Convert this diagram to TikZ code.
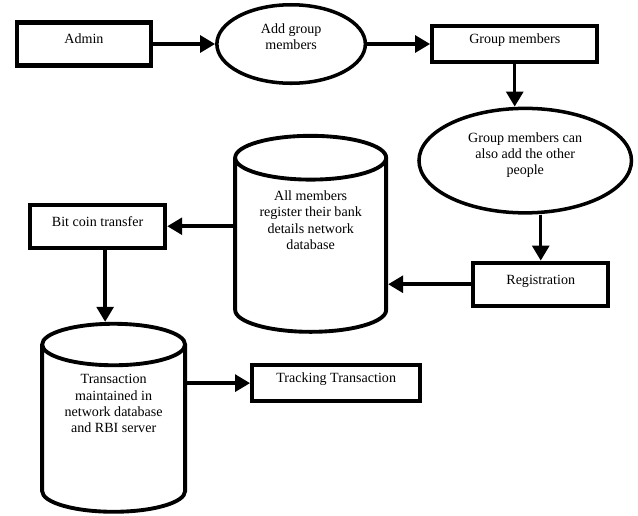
\documentclass[tikz,border=0pt]{standalone}
\usepackage{fontspec}
\setmainfont{Liberation Serif}
\usepackage{tikz}
\usetikzlibrary{shapes.geometric, arrows.meta}
\usetikzlibrary{positioning}
\tikzstyle{process} = [rectangle, minimum width=2.68cm, minimum height=0.86cm, text height=5.5pt, text depth=5.7pt, text centered, draw=black, line width=2.4pt, fill=white]
\tikzstyle{action} = [ellipse, inner sep=0pt, align=center, text depth=8pt, draw=black, line width=2pt, fill=white]
\tikzstyle{store} = [cylinder, shape border rotate=90, shape aspect=0.29, inner sep=0pt, draw=black, line width=2.2pt, fill=white]
\tikzstyle{storetext} = [inner sep=0pt, align=center]
\tikzstyle{arrow} = [line width=2pt, -{Triangle[length=8.5pt,width=9.5pt]}]

\begin{document}
\begin{tikzpicture}[node distance = 1.2cm, every text node part/.style={font=\fontsize{8}{9.2}\selectfont}]
\useasboundingbox (0,0) rectangle (12.76,-10.30);
\node (admin) [process] at (1.68,-0.88) {Admin};
\node (addgrp) [action, minimum width=2.97cm, minimum height=1.57cm, right=1.24cm of admin] {Add group\\ members};
\node (grpmem) [process, minimum width=3.30cm, minimum height=0.72cm, right=1.26cm of addgrp] {Group members};
\node (others) [action, minimum width=4.25cm, minimum height=2.09cm, below=0.85cm of grpmem, xshift=0.21cm] {Group members can\\ also add the other\\ people};
\node (reg) [process, minimum width=2.70cm, below=0.92cm of others, xshift=0.31cm] {Registration};
\node (db1) [store, text width=3.02cm, minimum width=3.02cm, minimum height=3.92cm, left=1.66cm of reg, yshift=0.77cm] {};
\node (db1txt) [storetext] at ([yshift=0.51cm]db1.center) {All members\\ register their bank\\ details network\\ database};
\node (bitcoin) [process, minimum width=2.70cm, left=1.32cm of db1, yshift=0.39cm] {Bit coin transfer};
\node (db2) [store, text width=2.86cm, minimum width=2.86cm, minimum height=3.76cm, below=1.44cm of bitcoin, xshift=0.32cm] {};
\node (db2txt) [storetext] at ([yshift=0.51cm]db2.center) {Transaction\\ maintained in\\ network database\\ and RBI server};
\node (track) [process, minimum width=3.36cm, minimum height=0.72cm, right=1.26cm of db2, yshift=0.92cm] {Tracking Transaction};

\draw [arrow] (admin) -- (addgrp);
\draw [arrow] (addgrp) -- (grpmem);
\draw [arrow] (grpmem.south) -- (grpmem.south |- others.north);
\draw [arrow] (others.south -| reg.north) -- (reg.north);
\draw [arrow] (reg.west) -- (reg.west -| db1.east);
\draw [arrow] (db1.west |- bitcoin.east) -- (bitcoin.east);
\draw [arrow] ([xshift=0.15cm]bitcoin.south) -- ([xshift=0.15cm]bitcoin.south |- db2.north);
\draw [arrow] (db2.east |- track.west) -- (track.west);
\end{tikzpicture}
\end{document}
